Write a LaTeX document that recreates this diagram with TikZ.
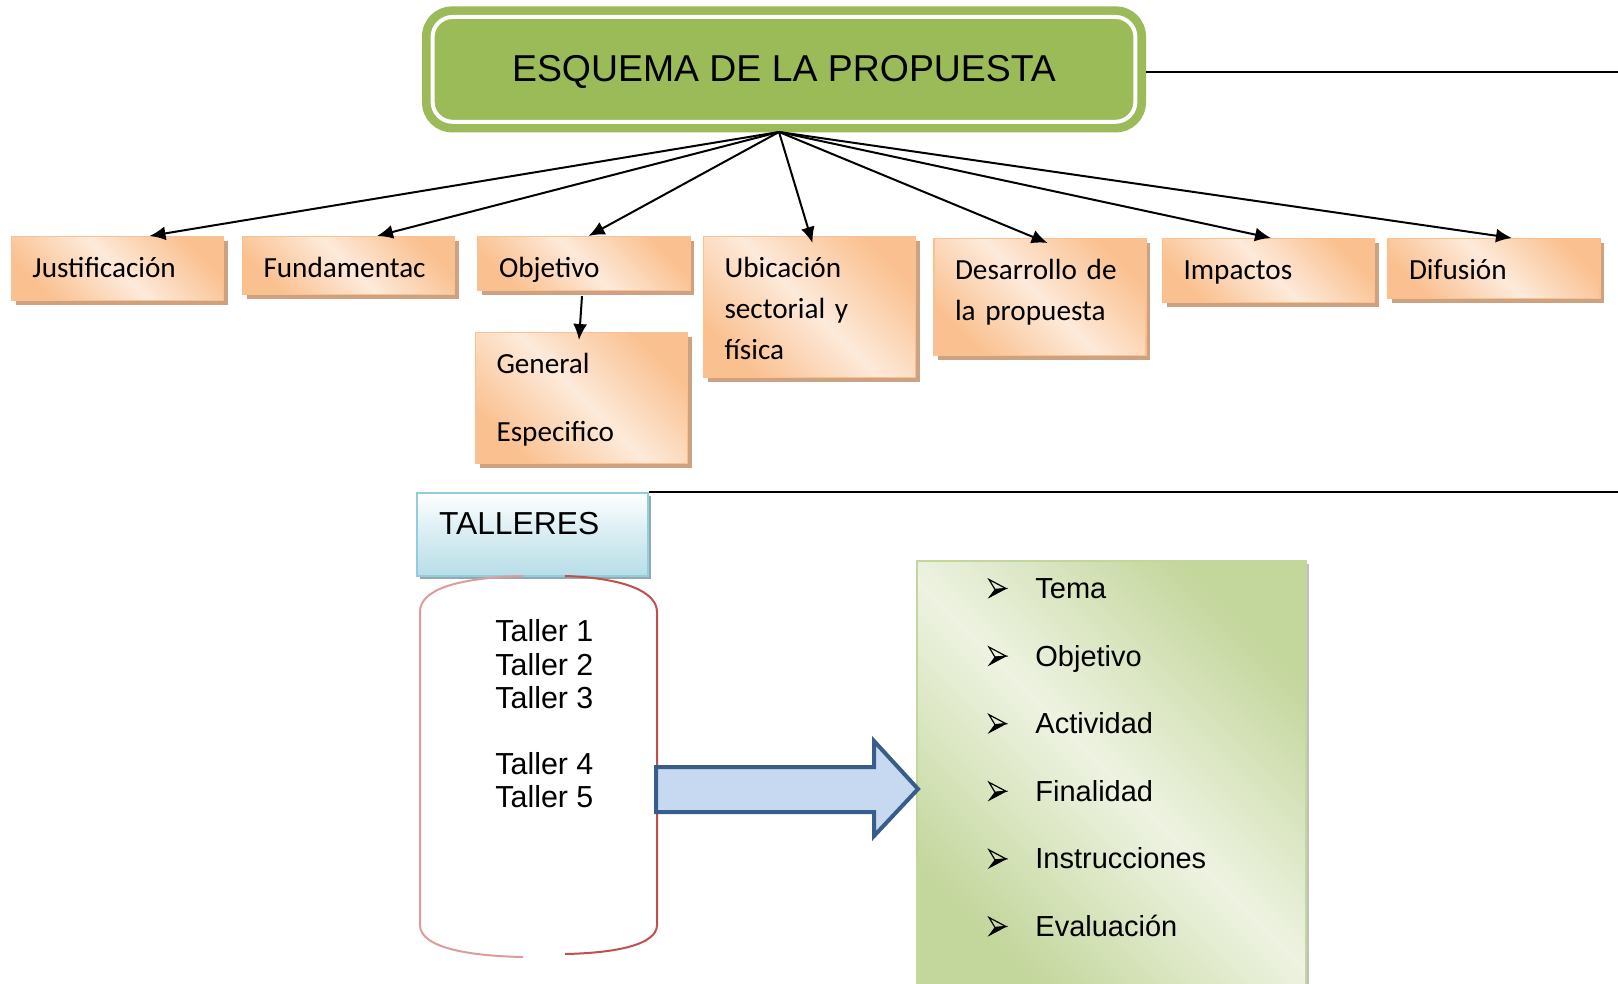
\documentclass[tikz,border=0pt]{standalone}
\usepackage{fontspec}
\setmainfont{Liberation Sans}
\newfontfamily\carl{Carlito}
\usetikzlibrary{arrows.meta,shadows,calc}
\definecolor{grn}{HTML}{9BBB59}
\definecolor{orD}{HTML}{FAC08F}
\definecolor{orL}{HTML}{FDEADA}
\definecolor{orS}{HTML}{CDA282}
\definecolor{blT}{HTML}{B7DEE8}
\definecolor{blB}{HTML}{93CDDD}
\definecolor{blS}{HTML}{8FAAB2}
\definecolor{gD}{HTML}{C3D69B}
\definecolor{gL}{HTML}{EEF3E2}
\definecolor{gS}{HTML}{BFBFBF}
\definecolor{arF}{HTML}{C6D9F1}
\definecolor{arB}{HTML}{385D8A}
\definecolor{rL}{HTML}{DE9C9B}
\definecolor{rD}{HTML}{C0504D}
\tikzset{
  obox/.style={draw=orD, line width=0.6pt, top color=orD, bottom color=orD, middle color=orL,
    shading angle=-45, drop shadow={shadow xshift=2pt,shadow yshift=-2pt,opacity=1,fill=orS},
    font=\carl\fontsize{14.6pt}{20.5pt}\selectfont, align=left, text width=85pt,
    inner xsep=10.5pt, inner ysep=0pt, anchor=north, text height=20.35pt},
  arr/.style={-{Latex[length=8pt,width=7pt]}, line width=1pt},
  item/.style={anchor=base west, inner sep=0pt, font=\fontsize{14.5pt}{17pt}\selectfont},
  bul/.pic={
    \filldraw[black] (6,1) -- (17,0) -- (0,9) -- cycle;
    \draw[line width=0.6pt, line join=miter] (0,-9) -- (17,0) -- (6,1) -- cycle;
  }
}
\begin{document}
\begin{tikzpicture}[x=0.5pt,y=-0.5pt]
\fill[white] (0,0) rectangle (1618,984);
\useasboundingbox (0,0) rectangle (1618,984);

% title
\node[fill=grn, rounded corners=15pt, minimum width=362pt, inner sep=0pt, anchor=north,
  text height=37.65pt, text depth=25.35pt,
  font=\fontsize{18.7pt}{22pt}\selectfont] (top) at (784,6) {ESQUEMA DE LA PROPUESTA};
\draw[white, line width=2pt, rounded corners=10pt]
  ([shift={(5.5pt,-5.5pt)}]top.north west) rectangle ([shift={(-5.5pt,5.5pt)}]top.south east);
\coordinate (r1) at (1618,72);
\draw[line width=0.8pt] (top.east |- r1) -- (r1);

% orange boxes
\node[obox, text depth=11.65pt] (just) at (117.5,236) {Justificación};
\node[obox, text depth=8.65pt] (fund) at (348.5,236) {Fundamentac};
\node[obox, text depth=6.65pt] (obj) at (584,236) {Objetivo};
\node[obox, text depth=50.15pt] (ubi) at (809.5,236) {Ubicación\\sectorial y\\física};
\node[obox, text depth=38.15pt] (des) at (1040,238) {Desarrollo de\\la propuesta};
\node[obox, text depth=11.65pt] (imp) at (1268.5,238) {Impactos};
\node[obox, text depth=9.65pt] (dif) at (1494,238) {Difusión};
\node[obox, text depth=45.15pt] (gen) at (581.5,332) {General\\[13.5pt]Especifico};

% connectors
\coordinate (o) at (779,132);
\draw[arr] (o) -- ([xshift=16pt]just.north);
\draw[arr] (o) -- ([xshift=14.25pt]fund.north);
\draw[arr] (o) -- ([xshift=2.3pt]obj.north);
\draw[arr] (o) -- ([xshift=1.5pt,yshift=-3.5pt]ubi.north);
\draw[arr] (o) -- ([xshift=3.8pt,yshift=-2.5pt]des.north);
\draw[arr] (o) -- ([xshift=1.25pt]imp.north);
\draw[arr] (o) -- ([xshift=9pt]dif.north);
\draw[arr] ([xshift=-1pt,yshift=-2.5pt]obj.south) -- ([xshift=-1.25pt,yshift=-4pt]gen.north);

% talleres
\node[anchor=north west, text width=93.5pt, align=left, inner xsep=11pt, inner ysep=9.5pt,
  text height=11.4pt, text depth=11.1pt, top color=white, bottom color=blT, middle color=blT!55,
  draw=blB, line width=1pt,
  drop shadow={shadow xshift=1.5pt,shadow yshift=-1.5pt,opacity=1,fill=blS},
  font=\fontsize{15.9pt}{19pt}\selectfont] (tall) at (416,492) {TALLERES};
\coordinate (r2) at (1618,492);
\draw[line width=0.8pt] (tall.north east) -- (r2);

% cylinder
\draw[rL, line width=1pt] (523,576) .. controls (455,578) and (420,590) .. (420,612)
  -- (420,925) .. controls (420,948) and (470,956) .. (523,957);
\draw[rD, line width=1pt] (565,576) .. controls (625,578) and (657,592) .. (657,612)
  -- (657,925) .. controls (657,945) and (615,953) .. (565,954);
\node[anchor=west, inner sep=0pt, align=left, font=\fontsize{15.2pt}{16.75pt}\selectfont] (tl)
  at (495,714) {Taller 1\\Taller 2\\Taller 3\\[16pt]Taller 4\\Taller 5};

% green list
\node[anchor=north west, minimum width=194.5pt, minimum height=215pt, draw=gD, line width=1pt,
  top color=gD, bottom color=gD, middle color=gL, shading angle=-45, inner sep=0pt,
  drop shadow={shadow xshift=1.5pt,shadow yshift=-1.5pt,opacity=1,fill=gS}] (lst) at (916,560) {};
\foreach \t [count=\i from 0] in {Tema,Objetivo,Actividad,Finalidad,Instrucciones,Evaluación}{
  \pic at (989,{598.5+67.6*\i-10}) {bul};
  \node[item] (it\i) at (1035,{598.5+67.6*\i}) {\t};
}

% block arrow
\draw[fill=arF, draw=arB, line width=2pt, line join=miter]
  (656,767) -- (874,767) -- (874,741) -- (918,789) -- (874,836) -- (874,812) -- (656,812) -- cycle;
\end{tikzpicture}
\end{document}
